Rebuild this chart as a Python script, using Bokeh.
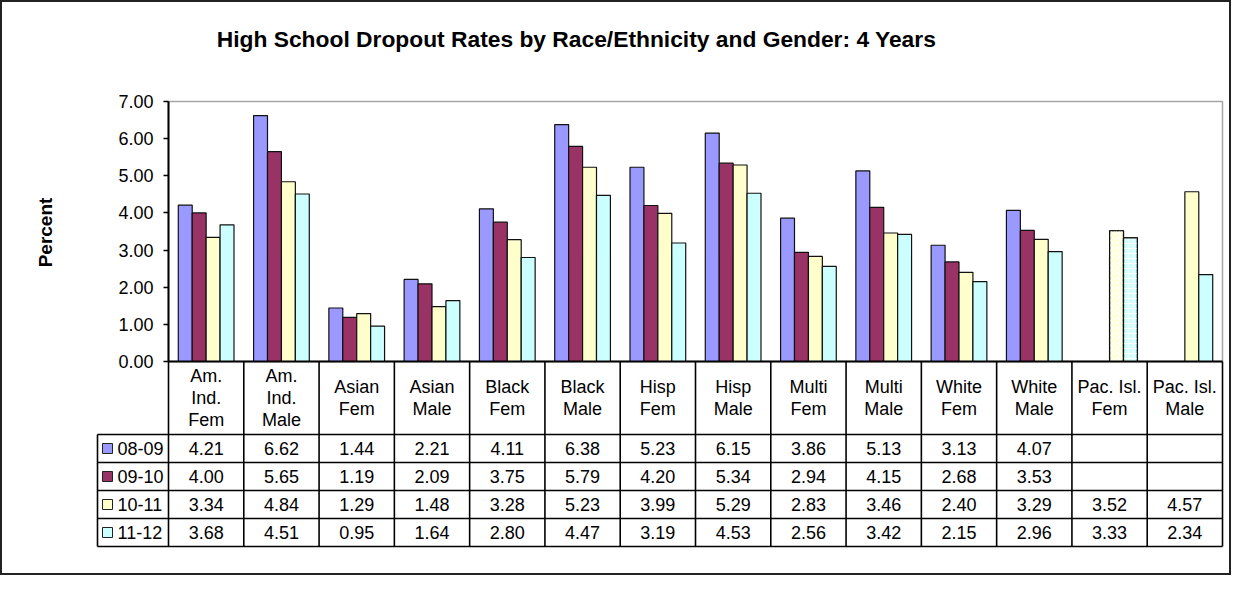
import numpy as np
from bokeh.plotting import figure
from bokeh.models import Range1d, LinearAxis, FixedTicker, PrintfTickFormatter, ColumnDataSource
from bokeh.embed import file_html
from bokeh.resources import INLINE
from bokeh.core.properties import value

# ---------------- data ----------------
title_text = "High School Dropout Rates by Race/Ethnicity and Gender: 4 Years"
y_label = "Percent"
categories = ["Am.\nInd.\nFem", "Am.\nInd.\nMale", "Asian\nFem", "Asian\nMale",
              "Black\nFem", "Black\nMale", "Hisp\nFem", "Hisp\nMale",
              "Multi\nFem", "Multi\nMale", "White\nFem", "White\nMale",
              "Pac. Isl.\nFem", "Pac. Isl.\nMale"]
years = ["08-09", "09-10", "10-11", "11-12"]
v_0809 = [4.21, 6.62, 1.44, 2.21, 4.11, 6.38, 5.23, 6.15, 3.86, 5.13, 3.13, 4.07, None, None]
v_0910 = [4.00, 5.65, 1.19, 2.09, 3.75, 5.79, 4.20, 5.34, 2.94, 4.15, 2.68, 3.53, None, None]
v_1011 = [3.34, 4.84, 1.29, 1.48, 3.28, 5.23, 3.99, 5.29, 2.83, 3.46, 2.40, 3.29, 3.52, 4.57]
v_1112 = [3.68, 4.51, 0.95, 1.64, 2.80, 4.47, 3.19, 4.53, 2.56, 3.42, 2.15, 2.96, 3.33, 2.34]
y_ticks = [0, 1, 2, 3, 4, 5, 6, 7]

series = [v_0809, v_0910, v_1011, v_1112]

# ---------------- styles ----------------
colors = ["#9999FF", "#993366", "#FFFFCC", "#CCFFFF"]
hatched_category = "Pac. Isl.\nFem"
hatch_styles = {2: "diagonal_cross", 3: "cross"}
FONT = "Liberation Sans"

# ---------------- layout (pixels in the reference image) ----------------
W, H = 1231, 575
ORIGIN = 0
PLOT_L, PLOT_R = 168, 1222
PLOT_T, PLOT_B = 101, 361
n = len(categories)
XU = (PLOT_R - PLOT_L) / n            # px per category
YU = (PLOT_B - PLOT_T) / y_ticks[-1]  # px per percent

def dx(px):
    return (px - PLOT_L) / XU

def dy(py):
    return (PLOT_B - py) / YU

x_range = Range1d(dx(ORIGIN), dx(ORIGIN + W))
y_range = Range1d(dy(ORIGIN + H), dy(ORIGIN))

p = figure(width=W, height=H, x_range=x_range, y_range=y_range,
           output_backend="svg", toolbar_location=None,
           x_axis_type=None, y_axis_type=None, min_border=0,
           outline_line_color="#222222", outline_line_width=3,
           background_fill_color="white", border_fill_color="white")

# plot area border (light gray)
p.quad(left=[0], right=[n], bottom=[0], top=[y_ticks[-1]], fill_color=None,
       line_color="#A6A6A6", line_width=1.5)

# bars
group = 0.74
bw = group / len(years)
centers = np.arange(n) + 0.5
for j, (yr, vals) in enumerate(zip(years, series)):
    top = np.array([np.nan if v is None else v for v in vals], dtype=float)
    xs = centers - group / 2 + bw * (j + 0.5)
    src = ColumnDataSource(dict(x=xs, top=top))
    p.vbar(x="x", top="top", bottom=0, width=bw, source=src,
           fill_color=colors[j], line_color="#111111", line_width=1.2)
    if j in hatch_styles:
        k = categories.index(hatched_category)
        p.vbar(x=[xs[k]], top=[top[k]], bottom=0, width=bw,
               fill_alpha=0, line_color="#111111", line_width=1.2,
               hatch_pattern=hatch_styles[j], hatch_color="white",
               hatch_scale=5, hatch_weight=1.2)

# y axis (fixed at plot-area left)
yaxis = LinearAxis(fixed_location=0, bounds=(y_ticks[0], y_ticks[-1]),
                   ticker=FixedTicker(ticks=y_ticks),
                   formatter=PrintfTickFormatter(format="%.2f"),
                   axis_line_color="black", axis_line_width=2,
                   major_tick_line_color="black", major_tick_line_width=1.5,
                   major_tick_out=5, major_tick_in=0,
                   minor_tick_line_color=None,
                   major_label_text_font=FONT, major_label_text_font_size="18px",
                   major_label_text_color="black", major_label_standoff=10)
p.add_layout(yaxis, "left")

# ---------------- data table ----------------
HEAD_B = 434
ROW_H = 28
LEG_L = 97
y_head = dy(HEAD_B)
row_bottoms = [dy(HEAD_B + ROW_H * (r + 1)) for r in range(len(years))]
x_leg = dx(LEG_L)
y_bottom = row_bottoms[-1]

# vertical separators
p.segment(x0=list(range(n + 1)), y0=[0] * (n + 1), x1=list(range(n + 1)),
          y1=[y_bottom] * (n + 1), line_color="black", line_width=1.6)
p.segment(x0=[x_leg], y0=[y_head], x1=[x_leg], y1=[y_bottom],
          line_color="black", line_width=1.6)
# horizontal separators
hy = [y_head] + row_bottoms
p.segment(x0=[x_leg] * len(hy), y0=hy, x1=[n] * len(hy), y1=hy,
          line_color="black", line_width=1.4)
# x axis line
p.segment(x0=[0], y0=[0], x1=[n], y1=[0], line_color="black", line_width=2)

# header labels
p.text(x=list(centers), y=[y_head / 2] * n, text=categories,
       text_align="center", text_baseline="middle",
       text_font=value(FONT), text_font_size="18px", text_color="black",
       text_line_height=1.1)

# values
row_tops = [y_head] + row_bottoms[:-1]
for r, vals in enumerate(series):
    yc = (row_tops[r] + row_bottoms[r]) / 2
    xs = [c for c, v in zip(centers, vals) if v is not None]
    ts = ["%.2f" % v for v in vals if v is not None]
    p.text(x=xs, y=[yc] * len(xs), text=ts, text_align="center",
           text_baseline="middle", text_font=value(FONT),
           text_font_size="18px", text_color="black")
    # legend swatch and label
    p.scatter(x=[dx(107)], y=[yc], marker="square", size=10,
              fill_color=colors[r], line_color="#222222", line_width=1)
    p.text(x=[dx(117)], y=[yc], text=[years[r]], text_align="left",
           text_baseline="middle", text_font=value(FONT),
           text_font_size="18px", text_color="black")

# title & y label
p.text(x=[dx(576)], y=[dy(38)], text=[title_text], text_align="center",
       text_baseline="middle", text_font=value(FONT), text_font_size="22.8px",
       text_font_style="bold", text_color="black")
p.text(x=[dx(45)], y=[dy(232)], text=[y_label], angle=np.pi / 2,
       text_align="center", text_baseline="middle", text_font=value(FONT),
       text_font_size="19px", text_font_style="bold", text_color="black")

open("out.html", "w").write(file_html(p, INLINE))
